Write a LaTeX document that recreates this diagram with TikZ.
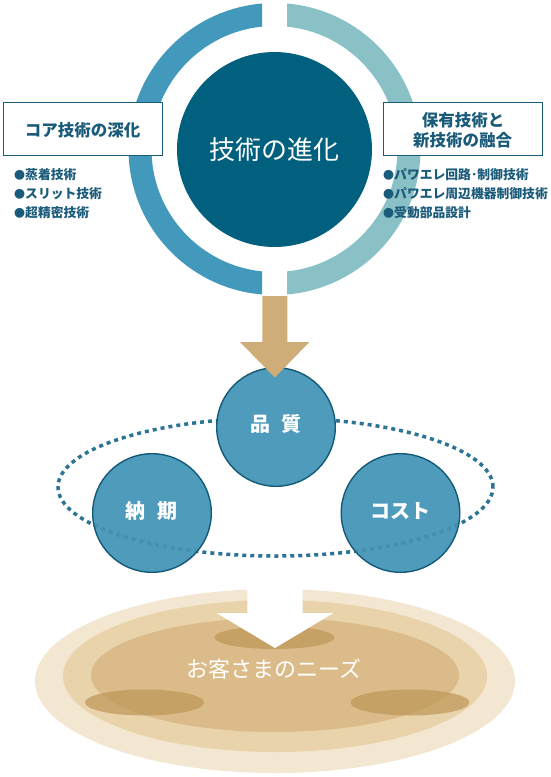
\documentclass[tikz,border=0pt]{standalone}
\usepackage{fontspec}
\setmainfont{Noto Sans CJK JP}
\definecolor{ringL}{HTML}{4299BB}
\definecolor{ringR}{HTML}{8AC1C7}
\definecolor{corec}{HTML}{02607F}
\definecolor{navy}{HTML}{1B5B7A}
\definecolor{ballc}{HTML}{4F9BBB}
\definecolor{ballline}{HTML}{135A77}
\definecolor{dotc}{HTML}{2D7393}
\definecolor{tanc}{HTML}{CFAD78}
\definecolor{sandA}{HTML}{F3E7D1}
\definecolor{sandB}{HTML}{E9D3AB}
\definecolor{sandC}{HTML}{DBBB89}
\definecolor{sandD}{HTML}{BE9656}
\tikzset{
  titlebox/.style={draw=navy, line width=1.5pt, fill=white, minimum width=159pt, minimum height=53pt, inner sep=0pt},
  boxtext/.style={text=navy, font=\fontsize{16.5}{19.5}\selectfont\bfseries, align=center, inner sep=0pt},
  itemtext/.style={text=navy, font=\fontsize{12.8}{15}\selectfont\bfseries, anchor=west, inner sep=0pt},
  ball/.style={circle, fill=ballc, draw=ballline, line width=1.4pt, minimum size=118.6pt, inner sep=0pt},
  balltext/.style={text=white, font=\fontsize{20}{24}\selectfont\bfseries, inner sep=0pt},
  dotline/.style={draw=dotc, line width=3.5pt, dash pattern=on 4pt off 4pt},
  shadowell/.style={fill=sandD, fill opacity=0.7},
}
\newcommand{\bulmark}{{\fontsize{11}{11}\selectfont ●}}
\begin{document}
\begin{tikzpicture}[x=1pt,y=-1pt]
\useasboundingbox (0,0) rectangle (550,777);
\coordinate (c) at (274.5,149);
% ---- bottom sand ellipses
\fill[sandA] (275,681) ellipse [x radius=240pt, y radius=92pt];
\fill[sandB] (275,676) ellipse [x radius=212pt, y radius=76pt];
\fill[sandC] (275,675) ellipse [x radius=184pt, y radius=57pt];
\fill[shadowell] (274.5,637.5) ellipse [x radius=60pt, y radius=11.5pt];
\fill[shadowell] (144.5,702.5) ellipse [x radius=59.5pt, y radius=13pt];
\fill[shadowell] (410,702.5) ellipse [x radius=59.5pt, y radius=13pt];
\fill[white] (247.3,584) -- (302.7,584) -- (302.7,613) -- (333.5,613) -- (275,648)
  -- (216.5,613) -- (247.3,613) -- cycle;
\node[text=white, font=\fontsize{22}{26}\selectfont, inner sep=0pt] (needs) at (274,669) {お客さまのニーズ};
% ---- ring
\begin{scope}
  \clip (0,0) rectangle (262,300);
  \fill[ringL, even odd rule] (c) circle (146pt) (c) circle (123pt);
\end{scope}
\begin{scope}
  \clip (287,0) rectangle (550,300);
  \fill[ringR, even odd rule] (c) circle (146pt) (c) circle (123pt);
\end{scope}
\node[circle, fill=corec, minimum size=195pt, inner sep=0pt] (core) at (274.5,149.5) {};
\node[text=white, font=\fontsize{26}{30}\selectfont, inner sep=0pt] (coretext) at (274.5,150) {技術の進化};
% ---- boxes
\node[titlebox] (lbox) at (83,129) {};
\node[boxtext] (ltitle) at (82.5,130) {コア技術の深化};
\node[titlebox] (rbox) at (462.75,129) {};
\node[boxtext] (rtitle1) at (463,120) {保有技術と};
\node[boxtext] (rtitle2) at (462.5,140) {新技術の融合};
\node[itemtext] (l1) at (14,175) {\bulmark 蒸着技術};
\node[itemtext] (l2) at (14,194) {\bulmark スリット技術};
\node[itemtext] (l3) at (14,213) {\bulmark 超精密技術};
\node[itemtext] (r1) at (383,175) {\bulmark パワエレ回路･制御技術};
\node[itemtext] (r2) at (383,194) {\bulmark パワエレ周辺機器制御技術};
\node[itemtext] (r3) at (383,213) {\bulmark 受動部品設計};
% ---- triad
\draw[dotline] (275.5,487) ellipse [x radius=217.5pt, y radius=69pt];
\node[ball] (nouki) at (152,513) {};
\node[ball] (cost) at (400.5,513) {};
\begin{scope}
  \clip (152,513) circle (59pt) (400.5,513) circle (59pt);
  \draw[dotline, draw opacity=0.3] (275.5,487) ellipse [x radius=217.5pt, y radius=69pt];
\end{scope}
\node[ball] (hinshitsu) at (276,427) {};
\node[balltext] at (151.5,511) {納\hspace{0.58em}期};
\node[balltext] at (400.8,511) {コスト};
\node[balltext] at (275.8,423.5) {品\hspace{0.58em}質};
% ---- tan arrow
\fill[tanc] (262.3,296) -- (287.3,296) -- (287.3,342) -- (309.5,342) -- (274.8,377.5)
  -- (240,342) -- (262.3,342) -- cycle;
\end{tikzpicture}
\end{document}
